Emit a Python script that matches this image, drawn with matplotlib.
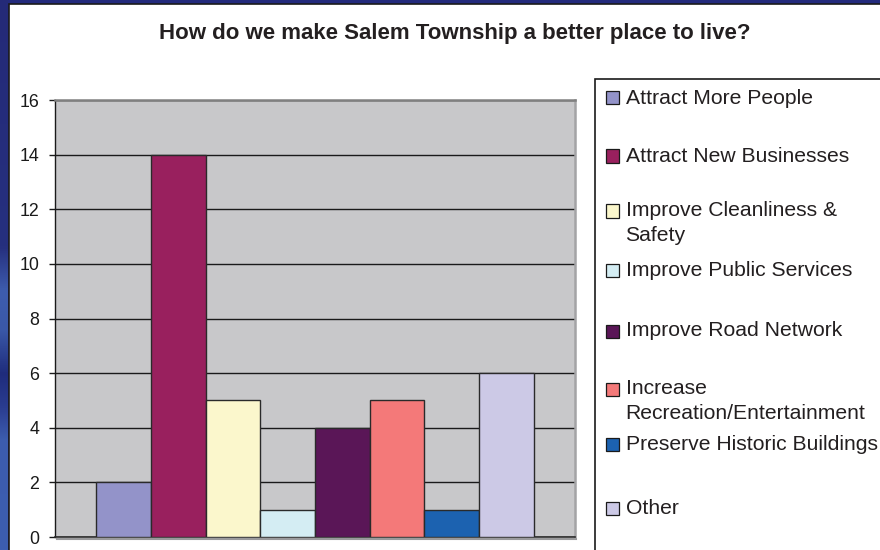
import numpy as np
import matplotlib
matplotlib.use("Agg")
import matplotlib.pyplot as plt
from matplotlib.patches import Rectangle
from matplotlib.lines import Line2D
from matplotlib.colors import LinearSegmentedColormap

# Survey answers and their counts
categories = [
    "Attract More People",
    "Attract New Businesses",
    "Improve Cleanliness &\nSafety",
    "Improve Public Services",
    "Improve Road Network",
    "Increase\nRecreation/Entertainment",
    "Preserve Historic Buildings",
    "Other",
]
counts = [2, 14, 5, 1, 4, 5, 1, 6]
colors = ["#9393C9", "#99205E", "#FBF7CC", "#D4EDF3",
          "#5A1657", "#F47979", "#1C62B0", "#CCC9E6"]
y_ticks = [0, 2, 4, 6, 8, 10, 12, 14, 16]
title = "How do we make Salem Township a better place to live?"

W, H = 880, 550
fig = plt.figure(figsize=(W / 100, H / 100), dpi=100)
fig.patch.set_facecolor("#232A7C")
FONT = "Liberation Sans"


def fx(px):
    return px / W


def fy(py):
    return 1 - py / H


# White panel behind everything
fig.patches.append(Rectangle((fx(8.5), -0.01), 1, fy(4) + 0.01,
                             transform=fig.transFigure, facecolor="white",
                             edgecolor="#1A1A1A", lw=1.2, zorder=-5))

# Left blue strip with soft vertical banding
strip = fig.add_axes([0, 0, fx(8), 1])
strip.set_axis_off()
cmap = LinearSegmentedColormap.from_list(
    "strip",
    [(0.0, "#242A78"), (0.45, "#26307F"), (0.53, "#3E5DAE"), (0.6, "#3A58A8"),
     (0.68, "#1F2C7C"), (0.74, "#2A3C90"), (0.8, "#3C5CAE"), (1.0, "#3D5EB0")])
grad = np.linspace(0, 1, 256).reshape(-1, 1)
strip.imshow(grad, aspect="auto", cmap=cmap, extent=[0, 1, 1, 0])
strip.set_xlim(0, 1)
strip.set_ylim(1, 0)

# Plot area
L, R, T, B = 55, 575, 100, 537
ax = fig.add_axes([fx(L), fy(B), fx(R - L), fy(T) - fy(B)])
ax.set_zorder(2)
ax.set_facecolor("#C8C8CA")
x = np.arange(len(counts))
ax.bar(x, counts, width=1.0, color=colors, edgecolor="#2A2A2A", linewidth=1.0,
       zorder=3)
ax.set_xlim(-1.25, len(counts) + 0.25)
ax.set_ylim(0, 16)
ax.set_yticks(y_ticks)
ax.set_yticklabels([str(v) for v in y_ticks], fontfamily=FONT, fontsize=12.8,
                   color="#1A1A1A")
ax.set_xticks([])
ax.tick_params(axis="y", direction="out", length=4.5, width=1.0, color="#1A1A1A",
               pad=7)
ax.yaxis.grid(True, color="#1A1A1A", linewidth=1.0, zorder=1)
ax.set_axisbelow(True)
ax.spines["left"].set_color("#1A1A1A")
ax.spines["left"].set_linewidth(1.0)
ax.spines["bottom"].set_color("#2A2A2A")
ax.spines["bottom"].set_linewidth(1.2)
ax.spines["top"].set_color("#808080")
ax.spines["top"].set_linewidth(1.8)
ax.spines["right"].set_color("#A3A3A5")
ax.spines["right"].set_linewidth(1.8)

# Soft shadow under the floor of the plot area
fig.add_artist(Line2D([fx(L + 2), fx(R + 1)], [fy(B + 1.8), fy(B + 1.8)],
                      transform=fig.transFigure, color="#9A9A9C", lw=1.5,
                      zorder=1))

fig.text(fx(455), fy(33), title, ha="center", va="center", fontfamily=FONT,
         fontweight="bold", fontsize=16, color="#231F20")

# Legend box (runs past the right and bottom edges)
fig.patches.append(Rectangle((fx(594.5), -0.1), 0.5, fy(79) + 0.1,
                             transform=fig.transFigure, facecolor="white",
                             edgecolor="#1A1A1A", lw=1.2, zorder=1))
row_y = [98, 156, 211, 270, 331, 389, 444, 508]
for label, col, yy in zip(categories, colors, row_y):
    fig.patches.append(Rectangle((fx(605.5), fy(yy + 6.5)), fx(13), fy(yy - 6.5) - fy(yy + 6.5),
                                 transform=fig.transFigure, facecolor=col,
                                 edgecolor="#1A1A1A", lw=0.9, zorder=2))
    for k, line in enumerate(label.split("\n")):
        fig.text(fx(625.5), fy(yy + 24.5 * k), line, ha="left", va="center",
                 fontfamily=FONT, fontsize=15.2, color="#231F20", zorder=3)

fig.savefig("out.png", dpi=100, facecolor=fig.get_facecolor())
